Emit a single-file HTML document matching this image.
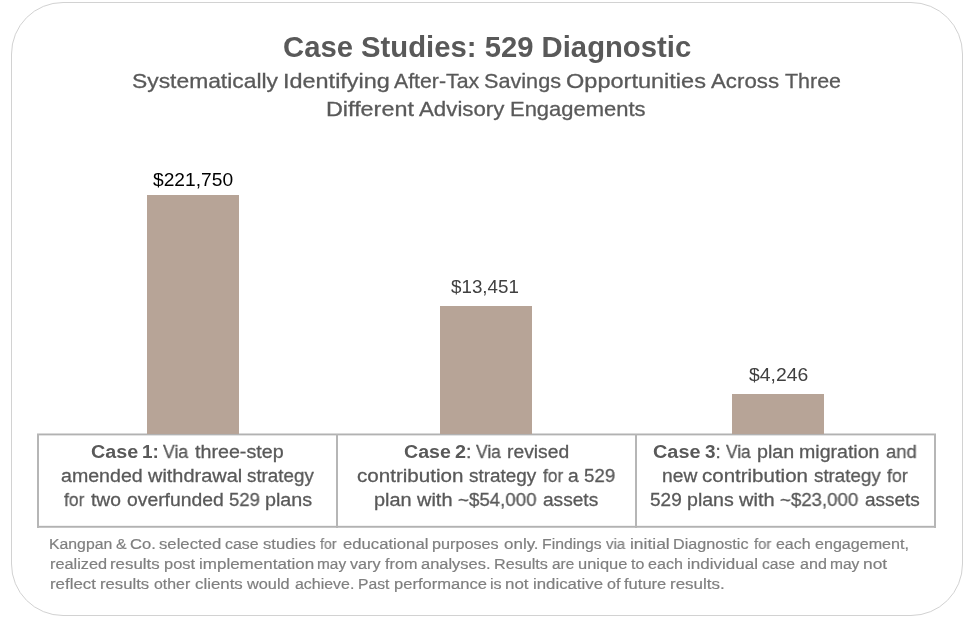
<!DOCTYPE html>
<html><head><meta charset="utf-8"><title>Case Studies: 529 Diagnostic</title><style>
html,body{margin:0;padding:0;background:#fff;}
body{width:977px;height:623px;position:relative;overflow:hidden;font-family:"Liberation Sans", sans-serif;}
.frame{position:absolute;left:11px;top:2px;width:950px;height:612px;border:1px solid #d2d2d2;border-radius:52px;background:#fff;}
.bar{position:absolute;width:92px;background:#b7a497;}
.ln{position:absolute;background:#b6b6b6;}
.hl{position:absolute;}
.t{position:absolute;white-space:nowrap;transform-origin:0 0;margin:0;will-change:transform;-webkit-font-smoothing:antialiased;-webkit-text-stroke:0.3px currentColor;}
.t b{-webkit-text-stroke:0;}
.d{-webkit-text-stroke:0;}
.fn{-webkit-text-stroke:0.2px currentColor;}
</style></head>
<body>
<div class="frame"></div>
<div class="hl" style="left:37px;top:433px;width:899px;height:3px;background:linear-gradient(to bottom,#d8d8d8 0,#d8d8d8 1px,#b2b2b2 1px,#b2b2b2 2px,#e2e2e2 2px,#e2e2e2 3px)"></div>
<div class="hl" style="left:37px;top:525px;width:899px;height:3px;background:linear-gradient(to bottom,#f2f2f2 0,#f2f2f2 1px,#b2b2b2 1px,#b2b2b2 2px,#c6c6c6 2px,#c6c6c6 3px)"></div>
<div class="ln" style="left:37px;top:434px;width:2px;height:94px"></div>
<div class="ln" style="left:336px;top:434px;width:2px;height:94px"></div>
<div class="ln" style="left:635px;top:434px;width:2px;height:94px"></div>
<div class="ln" style="left:934px;top:434px;width:2px;height:94px"></div>
<div class="bar" style="left:147px;top:195px;height:239px"></div>
<div class="bar" style="left:440px;top:306px;height:128px"></div>
<div class="bar" style="left:732px;top:394px;height:40px"></div>
<div class="t d" id="title" style="left:282.54px;top:31px;font-size:29.0px;line-height:32px;height:32px;color:#595959;transform:scaleX(1.0090)"><b>Case Studies: 529 Diagnostic</b></div>
<div class="t" id="s1w0" style="left:131.68px;top:69px;font-size:20.9px;line-height:23px;height:23px;color:#595959;transform:scaleX(1.0936)">Systematically</div>
<div class="t" id="s1w1" style="left:283.21px;top:69px;font-size:20.9px;line-height:23px;height:23px;color:#595959;transform:scaleX(1.1221)">Identifying</div>
<div class="t" id="s1w2" style="left:394.17px;top:69px;font-size:20.9px;line-height:23px;height:23px;color:#595959;transform:scaleX(1.0190)">After-Tax</div>
<div class="t" id="s1w3" style="left:484.28px;top:69px;font-size:20.9px;line-height:23px;height:23px;color:#595959;transform:scaleX(1.0363)">Savings</div>
<div class="t" id="s1w4" style="left:566.09px;top:69px;font-size:20.9px;line-height:23px;height:23px;color:#595959;transform:scaleX(1.1262)">Opportunities</div>
<div class="t" id="s1w5" style="left:710.96px;top:69px;font-size:20.9px;line-height:23px;height:23px;color:#595959;transform:scaleX(1.0657)">Across</div>
<div class="t" id="s1w6" style="left:784.88px;top:69px;font-size:20.9px;line-height:23px;height:23px;color:#595959;transform:scaleX(1.0266)">Three</div>
<div class="t" id="s2w0" style="left:326.16px;top:97px;font-size:20.9px;line-height:23px;height:23px;color:#595959;transform:scaleX(1.1184)">Different</div>
<div class="t" id="s2w1" style="left:419.27px;top:97px;font-size:20.9px;line-height:23px;height:23px;color:#595959;transform:scaleX(1.0662)">Advisory</div>
<div class="t" id="s2w2" style="left:510.40px;top:97px;font-size:20.9px;line-height:23px;height:23px;color:#595959;transform:scaleX(1.0516)">Engagements</div>
<div class="t" id="c1l1w0" style="left:91.30px;top:441px;font-size:18.8px;line-height:21px;height:21px;color:#595959;transform:scaleX(1.0505)"><b>Case</b></div>
<div class="t" id="c1l1w1" style="left:141.95px;top:441px;font-size:18.8px;line-height:21px;height:21px;color:#595959;transform:scaleX(1.0084)"><b>1:</b></div>
<div class="t" id="c1l1w2" style="left:162.89px;top:441px;font-size:18.8px;line-height:21px;height:21px;color:#595959;transform:scaleX(0.9405)">Via</div>
<div class="t" id="c1l1w3" style="left:194.60px;top:441px;font-size:18.8px;line-height:21px;height:21px;color:#595959;transform:scaleX(1.0477)">three-step</div>
<div class="t" id="c1l2w0" style="left:60.79px;top:465px;font-size:18.8px;line-height:21px;height:21px;color:#595959;transform:scaleX(1.0427)">amended</div>
<div class="t" id="c1l2w1" style="left:147.94px;top:465px;font-size:18.8px;line-height:21px;height:21px;color:#595959;transform:scaleX(1.0617)">withdrawal</div>
<div class="t" id="c1l2w2" style="left:247.11px;top:465px;font-size:18.8px;line-height:21px;height:21px;color:#595959;transform:scaleX(0.9982)">strategy</div>
<div class="t" id="c1l3w0" style="left:63.64px;top:489px;font-size:18.8px;line-height:21px;height:21px;color:#595959;transform:scaleX(0.9260)">for</div>
<div class="t" id="c1l3w1" style="left:90.61px;top:489px;font-size:18.8px;line-height:21px;height:21px;color:#595959;transform:scaleX(1.0255)">two</div>
<div class="t" id="c1l3w2" style="left:126.63px;top:489px;font-size:18.8px;line-height:21px;height:21px;color:#595959;transform:scaleX(1.0282)">overfunded</div>
<div class="t" id="c1l3w3" style="left:228.84px;top:489px;font-size:18.8px;line-height:21px;height:21px;color:#595959;transform:scaleX(0.9813)">529</div>
<div class="t" id="c1l3w4" style="left:264.64px;top:489px;font-size:18.8px;line-height:21px;height:21px;color:#595959;transform:scaleX(1.0512)">plans</div>
<div class="t" id="c2l1w0" style="left:403.79px;top:441px;font-size:18.8px;line-height:21px;height:21px;color:#595959;transform:scaleX(1.0418)"><b>Case</b></div>
<div class="t" id="c2l1w1" style="left:454.70px;top:441px;font-size:18.8px;line-height:21px;height:21px;color:#595959;transform:scaleX(1.0558)"><b>2</b>:</div>
<div class="t" id="c2l1w2" style="left:475.53px;top:441px;font-size:18.8px;line-height:21px;height:21px;color:#595959;transform:scaleX(0.9289)">Via</div>
<div class="t" id="c2l1w3" style="left:506.52px;top:441px;font-size:18.8px;line-height:21px;height:21px;color:#595959;transform:scaleX(1.0265)">revised</div>
<div class="t" id="c2l2w0" style="left:357.14px;top:465px;font-size:18.8px;line-height:21px;height:21px;color:#595959;transform:scaleX(1.0963)">contribution</div>
<div class="t" id="c2l2w1" style="left:469.10px;top:465px;font-size:18.8px;line-height:21px;height:21px;color:#595959;transform:scaleX(1.0058)">strategy</div>
<div class="t" id="c2l2w2" style="left:542.64px;top:465px;font-size:18.8px;line-height:21px;height:21px;color:#595959;transform:scaleX(0.9183)">for</div>
<div class="t" id="c2l2w3" style="left:568.42px;top:465px;font-size:18.8px;line-height:21px;height:21px;color:#595959;transform:scaleX(1.0199)">a</div>
<div class="t" id="c2l2w4" style="left:583.62px;top:465px;font-size:18.8px;line-height:21px;height:21px;color:#595959;transform:scaleX(0.9926)">529</div>
<div class="t" id="c2l3w0" style="left:374.15px;top:489px;font-size:18.8px;line-height:21px;height:21px;color:#595959;transform:scaleX(1.0592)">plan</div>
<div class="t" id="c2l3w1" style="left:417.39px;top:489px;font-size:18.8px;line-height:21px;height:21px;color:#595959;transform:scaleX(1.0621)">with</div>
<div class="t" id="c2l3w2" style="left:457.60px;top:489px;font-size:18.8px;line-height:21px;height:21px;color:#595959;transform:scaleX(0.9950)">~$54,000</div>
<div class="t" id="c2l3w3" style="left:542.63px;top:489px;font-size:18.8px;line-height:21px;height:21px;color:#595959;transform:scaleX(1.0172)">assets</div>
<div class="t" id="c3l1w0" style="left:653.25px;top:441px;font-size:18.8px;line-height:21px;height:21px;color:#595959;transform:scaleX(1.0572)"><b>Case</b></div>
<div class="t" id="c3l1w1" style="left:704.71px;top:441px;font-size:18.8px;line-height:21px;height:21px;color:#595959;transform:scaleX(1.0051)"><b>3</b>:</div>
<div class="t" id="c3l1w2" style="left:726.30px;top:441px;font-size:18.8px;line-height:21px;height:21px;color:#595959;transform:scaleX(0.9212)">Via</div>
<div class="t" id="c3l1w3" style="left:756.71px;top:441px;font-size:18.8px;line-height:21px;height:21px;color:#595959;transform:scaleX(1.0493)">plan</div>
<div class="t" id="c3l1w4" style="left:799.43px;top:441px;font-size:18.8px;line-height:21px;height:21px;color:#595959;transform:scaleX(1.0418)">migration</div>
<div class="t" id="c3l1w5" style="left:885.62px;top:441px;font-size:18.8px;line-height:21px;height:21px;color:#595959;transform:scaleX(0.9761)">and</div>
<div class="t" id="c3l2w0" style="left:661.83px;top:465px;font-size:18.8px;line-height:21px;height:21px;color:#595959;transform:scaleX(1.0235)">new</div>
<div class="t" id="c3l2w1" style="left:702.24px;top:465px;font-size:18.8px;line-height:21px;height:21px;color:#595959;transform:scaleX(1.0912)">contribution</div>
<div class="t" id="c3l2w2" style="left:813.90px;top:465px;font-size:18.8px;line-height:21px;height:21px;color:#595959;transform:scaleX(0.9968)">strategy</div>
<div class="t" id="c3l2w3" style="left:887.30px;top:465px;font-size:18.8px;line-height:21px;height:21px;color:#595959;transform:scaleX(0.9443)">for</div>
<div class="t" id="c3l3w0" style="left:650.27px;top:489px;font-size:18.8px;line-height:21px;height:21px;color:#595959;transform:scaleX(1.0119)">529</div>
<div class="t" id="c3l3w1" style="left:686.84px;top:489px;font-size:18.8px;line-height:21px;height:21px;color:#595959;transform:scaleX(1.0423)">plans</div>
<div class="t" id="c3l3w2" style="left:738.98px;top:489px;font-size:18.8px;line-height:21px;height:21px;color:#595959;transform:scaleX(1.0667)">with</div>
<div class="t" id="c3l3w3" style="left:779.90px;top:489px;font-size:18.8px;line-height:21px;height:21px;color:#595959;transform:scaleX(0.9916)">~$23,000</div>
<div class="t" id="c3l3w4" style="left:864.50px;top:489px;font-size:18.8px;line-height:21px;height:21px;color:#595959;transform:scaleX(1.0107)">assets</div>
<div class="t fn" id="f1w0" style="left:49.19px;top:535px;font-size:15.4px;line-height:17px;height:17px;color:#7f7f7f;transform:scaleX(1.0264)">Kangpan</div>
<div class="t fn" id="f1w1" style="left:116.31px;top:535px;font-size:15.4px;line-height:17px;height:17px;color:#7f7f7f;transform:scaleX(1.0280)">&amp;</div>
<div class="t fn" id="f1w2" style="left:130.07px;top:535px;font-size:15.4px;line-height:17px;height:17px;color:#7f7f7f;transform:scaleX(1.0747)">Co.</div>
<div class="t fn" id="f1w3" style="left:159.26px;top:535px;font-size:15.4px;line-height:17px;height:17px;color:#7f7f7f;transform:scaleX(1.0862)">selected</div>
<div class="t fn" id="f1w4" style="left:225.36px;top:535px;font-size:15.4px;line-height:17px;height:17px;color:#7f7f7f;transform:scaleX(1.0353)">case</div>
<div class="t fn" id="f1w5" style="left:263.01px;top:535px;font-size:15.4px;line-height:17px;height:17px;color:#7f7f7f;transform:scaleX(1.0812)">studies</div>
<div class="t fn" id="f1w6" style="left:320.15px;top:535px;font-size:15.4px;line-height:17px;height:17px;color:#7f7f7f;transform:scaleX(0.9252)">for</div>
<div class="t fn" id="f1w7" style="left:342.97px;top:535px;font-size:15.4px;line-height:17px;height:17px;color:#7f7f7f;transform:scaleX(1.0846)">educational</div>
<div class="t fn" id="f1w8" style="left:431.94px;top:535px;font-size:15.4px;line-height:17px;height:17px;color:#7f7f7f;transform:scaleX(1.0523)">purposes</div>
<div class="t fn" id="f1w9" style="left:503.70px;top:535px;font-size:15.4px;line-height:17px;height:17px;color:#7f7f7f;transform:scaleX(1.1026)">only.</div>
<div class="t fn" id="f1w10" style="left:542.16px;top:535px;font-size:15.4px;line-height:17px;height:17px;color:#7f7f7f;transform:scaleX(1.0240)">Findings</div>
<div class="t fn" id="f1w11" style="left:606.28px;top:535px;font-size:15.4px;line-height:17px;height:17px;color:#7f7f7f;transform:scaleX(0.9756)">via</div>
<div class="t fn" id="f1w12" style="left:629.73px;top:535px;font-size:15.4px;line-height:17px;height:17px;color:#7f7f7f;transform:scaleX(1.1325)">initial</div>
<div class="t fn" id="f1w13" style="left:673.05px;top:535px;font-size:15.4px;line-height:17px;height:17px;color:#7f7f7f;transform:scaleX(1.0506)">Diagnostic</div>
<div class="t fn" id="f1w14" style="left:753.65px;top:535px;font-size:15.4px;line-height:17px;height:17px;color:#7f7f7f;transform:scaleX(0.9662)">for</div>
<div class="t fn" id="f1w15" style="left:776.34px;top:535px;font-size:15.4px;line-height:17px;height:17px;color:#7f7f7f;transform:scaleX(1.0352)">each</div>
<div class="t fn" id="f1w16" style="left:815.47px;top:535px;font-size:15.4px;line-height:17px;height:17px;color:#7f7f7f;transform:scaleX(1.0459)">engagement,</div>
<div class="t fn" id="f2w0" style="left:49.62px;top:555px;font-size:15.4px;line-height:17px;height:17px;color:#7f7f7f;transform:scaleX(1.0602)">realized</div>
<div class="t fn" id="f2w1" style="left:110.27px;top:555px;font-size:15.4px;line-height:17px;height:17px;color:#7f7f7f;transform:scaleX(1.0951)">results</div>
<div class="t fn" id="f2w2" style="left:163.70px;top:555px;font-size:15.4px;line-height:17px;height:17px;color:#7f7f7f;transform:scaleX(1.0694)">post</div>
<div class="t fn" id="f2w3" style="left:198.57px;top:555px;font-size:15.4px;line-height:17px;height:17px;color:#7f7f7f;transform:scaleX(1.1045)">implementation</div>
<div class="t fn" id="f2w4" style="left:317.38px;top:555px;font-size:15.4px;line-height:17px;height:17px;color:#7f7f7f;transform:scaleX(0.9838)">may</div>
<div class="t fn" id="f2w5" style="left:350.43px;top:555px;font-size:15.4px;line-height:17px;height:17px;color:#7f7f7f;transform:scaleX(1.0496)">vary</div>
<div class="t fn" id="f2w6" style="left:384.82px;top:555px;font-size:15.4px;line-height:17px;height:17px;color:#7f7f7f;transform:scaleX(1.0515)">from</div>
<div class="t fn" id="f2w7" style="left:421.05px;top:555px;font-size:15.4px;line-height:17px;height:17px;color:#7f7f7f;transform:scaleX(1.0682)">analyses.</div>
<div class="t fn" id="f2w8" style="left:493.88px;top:555px;font-size:15.4px;line-height:17px;height:17px;color:#7f7f7f;transform:scaleX(1.0514)">Results</div>
<div class="t fn" id="f2w9" style="left:552.48px;top:555px;font-size:15.4px;line-height:17px;height:17px;color:#7f7f7f;transform:scaleX(0.9945)">are</div>
<div class="t fn" id="f2w10" style="left:577.95px;top:555px;font-size:15.4px;line-height:17px;height:17px;color:#7f7f7f;transform:scaleX(1.0690)">unique</div>
<div class="t fn" id="f2w11" style="left:631.11px;top:555px;font-size:15.4px;line-height:17px;height:17px;color:#7f7f7f;transform:scaleX(1.0353)">to</div>
<div class="t fn" id="f2w12" style="left:648.34px;top:555px;font-size:15.4px;line-height:17px;height:17px;color:#7f7f7f;transform:scaleX(1.0453)">each</div>
<div class="t fn" id="f2w13" style="left:686.89px;top:555px;font-size:15.4px;line-height:17px;height:17px;color:#7f7f7f;transform:scaleX(1.1059)">individual</div>
<div class="t fn" id="f2w14" style="left:762.11px;top:555px;font-size:15.4px;line-height:17px;height:17px;color:#7f7f7f;transform:scaleX(1.0157)">case</div>
<div class="t fn" id="f2w15" style="left:799.97px;top:555px;font-size:15.4px;line-height:17px;height:17px;color:#7f7f7f;transform:scaleX(1.0448)">and</div>
<div class="t fn" id="f2w16" style="left:830.04px;top:555px;font-size:15.4px;line-height:17px;height:17px;color:#7f7f7f;transform:scaleX(1.0113)">may</div>
<div class="t fn" id="f2w17" style="left:862.85px;top:555px;font-size:15.4px;line-height:17px;height:17px;color:#7f7f7f;transform:scaleX(1.1293)">not</div>
<div class="t fn" id="f3w0" style="left:49.93px;top:575px;font-size:15.4px;line-height:17px;height:17px;color:#7f7f7f;transform:scaleX(1.0956)">reflect</div>
<div class="t fn" id="f3w1" style="left:99.87px;top:575px;font-size:15.4px;line-height:17px;height:17px;color:#7f7f7f;transform:scaleX(1.0857)">results</div>
<div class="t fn" id="f3w2" style="left:153.80px;top:575px;font-size:15.4px;line-height:17px;height:17px;color:#7f7f7f;transform:scaleX(1.0315)">other</div>
<div class="t fn" id="f3w3" style="left:194.95px;top:575px;font-size:15.4px;line-height:17px;height:17px;color:#7f7f7f;transform:scaleX(1.0947)">clients</div>
<div class="t fn" id="f3w4" style="left:247.26px;top:575px;font-size:15.4px;line-height:17px;height:17px;color:#7f7f7f;transform:scaleX(1.0585)">would</div>
<div class="t fn" id="f3w5" style="left:294.81px;top:575px;font-size:15.4px;line-height:17px;height:17px;color:#7f7f7f;transform:scaleX(1.0347)">achieve.</div>
<div class="t fn" id="f3w6" style="left:358.14px;top:575px;font-size:15.4px;line-height:17px;height:17px;color:#7f7f7f;transform:scaleX(1.0190)">Past</div>
<div class="t fn" id="f3w7" style="left:393.78px;top:575px;font-size:15.4px;line-height:17px;height:17px;color:#7f7f7f;transform:scaleX(1.0755)">performance</div>
<div class="t fn" id="f3w8" style="left:490.40px;top:575px;font-size:15.4px;line-height:17px;height:17px;color:#7f7f7f;transform:scaleX(1.0496)">is</div>
<div class="t fn" id="f3w9" style="left:505.35px;top:575px;font-size:15.4px;line-height:17px;height:17px;color:#7f7f7f;transform:scaleX(1.1009)">not</div>
<div class="t fn" id="f3w10" style="left:532.86px;top:575px;font-size:15.4px;line-height:17px;height:17px;color:#7f7f7f;transform:scaleX(1.0910)">indicative</div>
<div class="t fn" id="f3w11" style="left:606.71px;top:575px;font-size:15.4px;line-height:17px;height:17px;color:#7f7f7f;transform:scaleX(1.0496)">of</div>
<div class="t fn" id="f3w12" style="left:624.18px;top:575px;font-size:15.4px;line-height:17px;height:17px;color:#7f7f7f;transform:scaleX(1.0750)">future</div>
<div class="t fn" id="f3w13" style="left:669.86px;top:575px;font-size:15.4px;line-height:17px;height:17px;color:#7f7f7f;transform:scaleX(1.1023)">results.</div>
<div class="t d" id="d1" style="left:153.46px;top:169px;font-size:18.6px;line-height:21px;height:21px;color:#000000;transform:scaleX(1.0325)">$221,750</div>
<div class="t d" id="d2" style="left:450.67px;top:276px;font-size:18.4px;line-height:21px;height:21px;color:#404040;transform:scaleX(1.0206)">$13,451</div>
<div class="t d" id="d3" style="left:748.84px;top:364px;font-size:18.4px;line-height:21px;height:21px;color:#404040;transform:scaleX(1.0522)">$4,246</div>
</body></html>
